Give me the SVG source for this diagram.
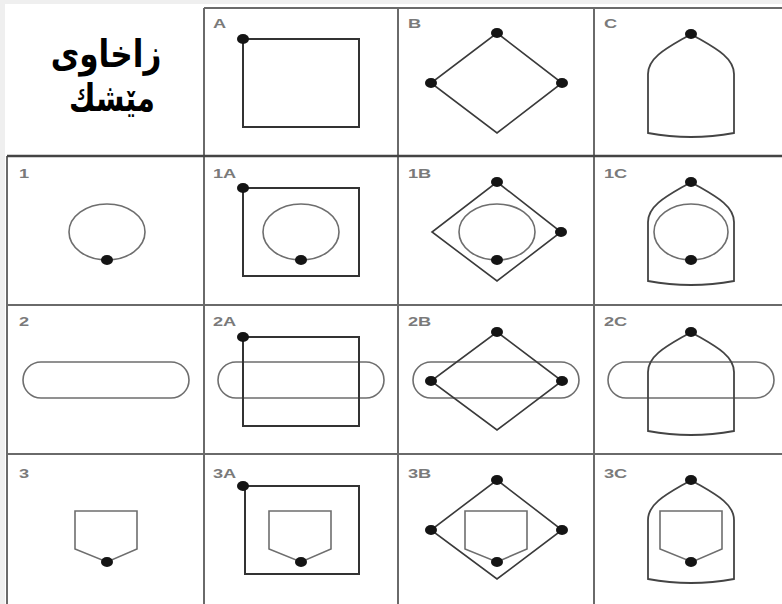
<svg xmlns="http://www.w3.org/2000/svg" width="782" height="604" viewBox="0 0 782 604">
<defs>
<style>
.grid{stroke:#6a6a6a;stroke-width:2;fill:none}
.sq{stroke:#333;stroke-width:2;fill:none}
.dm{stroke:#3a3a3a;stroke-width:1.6;fill:none}
.ar{stroke:#444;stroke-width:1.8;fill:none}
.soft{stroke:#6e6e6e;stroke-width:1.6;fill:none}
.dot{fill:#141414}
.lbl{font-family:"Liberation Sans",Arial,sans-serif;font-weight:bold;font-size:13px;fill:#7a7a7a}
.ttl{font-family:"DejaVu Sans","Noto Sans",sans-serif;font-weight:bold;font-size:38px;fill:#000;text-anchor:middle}
</style>
<ellipse id="d" cx="0" cy="0" rx="6" ry="5" class="dot"/>
<path id="arch" d="M0,0 C20,12 43,22 43,40 L43,99 Q0,107 -43,99 L-43,40 C-43,22 -20,12 0,0 Z" class="ar"/>
<rect id="stad" x="0" y="0" width="166" height="36" rx="18" ry="18" class="soft"/>
<path id="pent" d="M-32,0 L30,0 L30,38 L0,51 L-32,38 Z" class="soft"/>
</defs>
<rect x="0" y="0" width="782" height="604" fill="#efefef"/>
<rect x="5" y="4" width="777" height="600" fill="#fff"/>
<g id="grid">
<path class="grid" d="M204,8 H782 M7,156 H782 M7,305 H782 M7,454 H782 M7,156 V604 M204,8 V604 M398,8 V604 M594,8 V604"/>
<line x1="7" y1="156" x2="782" y2="156" stroke="#444" stroke-width="2.5"/>
</g>
<g id="title">
<text class="ttl" transform="translate(106,67) scale(0.82,1)">زاخاوی</text>
<text class="ttl" transform="translate(112,111) scale(0.76,1)">مێشك</text>
</g>
<g id="A">
<text class="lbl" transform="translate(213,28) scale(1.4,1)">A</text>
<rect class="sq" x="243" y="39" width="116" height="88"/>
<use href="#d" x="243" y="39"/>
</g>
<g id="B">
<text class="lbl" transform="translate(408,28) scale(1.4,1)">B</text>
<path class="dm" d="M497,33 L562,83 L497,133 L431,83 Z"/>
<use href="#d" x="497" y="33"/><use href="#d" x="431" y="83"/><use href="#d" x="562" y="83"/>
</g>
<g id="C">
<text class="lbl" transform="translate(604,28) scale(1.4,1)">C</text>
<use href="#arch" x="691" y="34"/>
<use href="#d" x="691" y="34"/>
</g>
<g id="n1">
<text class="lbl" transform="translate(19,178) scale(1.4,1)">1</text>
<ellipse class="soft" cx="107" cy="232" rx="38" ry="28"/>
<use href="#d" x="107" y="260"/>
</g>
<g id="n1A">
<text class="lbl" transform="translate(213,178) scale(1.4,1)">1A</text>
<rect class="sq" x="243" y="188" width="116" height="88"/>
<ellipse class="soft" cx="301" cy="232" rx="38" ry="28"/>
<use href="#d" x="243" y="188"/><use href="#d" x="301" y="260"/>
</g>
<g id="n1B">
<text class="lbl" transform="translate(408,178) scale(1.4,1)">1B</text>
<path class="dm" d="M497,182 L561,232 L497,281 L432,232 Z"/>
<ellipse class="soft" cx="497" cy="232" rx="38" ry="28"/>
<use href="#d" x="497" y="182"/><use href="#d" x="561" y="232"/><use href="#d" x="497" y="260"/>
</g>
<g id="n1C">
<text class="lbl" transform="translate(604,178) scale(1.4,1)">1C</text>
<use href="#arch" x="691" y="182"/>
<ellipse class="soft" cx="691" cy="232" rx="37" ry="28"/>
<use href="#d" x="691" y="182"/><use href="#d" x="691" y="260"/>
</g>
<g id="n2">
<text class="lbl" transform="translate(19,326) scale(1.4,1)">2</text>
<use href="#stad" x="23" y="362"/>
</g>
<g id="n2A">
<text class="lbl" transform="translate(213,326) scale(1.4,1)">2A</text>
<use href="#stad" x="218" y="362"/>
<rect class="sq" x="243" y="337" width="116" height="89"/>
<use href="#d" x="243" y="337"/>
</g>
<g id="n2B">
<text class="lbl" transform="translate(408,326) scale(1.4,1)">2B</text>
<use href="#stad" x="413" y="362"/>
<path class="dm" d="M497,332 L562,381 L497,430 L431,381 Z"/>
<use href="#d" x="497" y="332"/><use href="#d" x="431" y="381"/><use href="#d" x="562" y="381"/>
</g>
<g id="n2C">
<text class="lbl" transform="translate(604,326) scale(1.4,1)">2C</text>
<use href="#stad" x="608" y="362"/>
<use href="#arch" x="691" y="332"/>
<use href="#d" x="691" y="332"/>
</g>
<g id="n3">
<text class="lbl" transform="translate(19,478) scale(1.4,1)">3</text>
<use href="#pent" x="107" y="511"/>
<use href="#d" x="107" y="562"/>
</g>
<g id="n3A">
<text class="lbl" transform="translate(213,478) scale(1.4,1)">3A</text>
<rect class="sq" x="245" y="486" width="114" height="88"/>
<use href="#pent" x="301" y="511"/>
<use href="#d" x="243" y="486"/><use href="#d" x="301" y="562"/>
</g>
<g id="n3B">
<text class="lbl" transform="translate(408,478) scale(1.4,1)">3B</text>
<path class="dm" d="M497,480 L562,530 L497,579 L431,530 Z"/>
<use href="#pent" x="497" y="511"/>
<use href="#d" x="497" y="480"/><use href="#d" x="431" y="530"/><use href="#d" x="562" y="530"/><use href="#d" x="497" y="562"/>
</g>
<g id="n3C">
<text class="lbl" transform="translate(604,478) scale(1.4,1)">3C</text>
<use href="#arch" x="691" y="480"/>
<use href="#pent" x="692" y="511"/>
<use href="#d" x="691" y="480"/><use href="#d" x="691" y="562"/>
</g>
</svg>
